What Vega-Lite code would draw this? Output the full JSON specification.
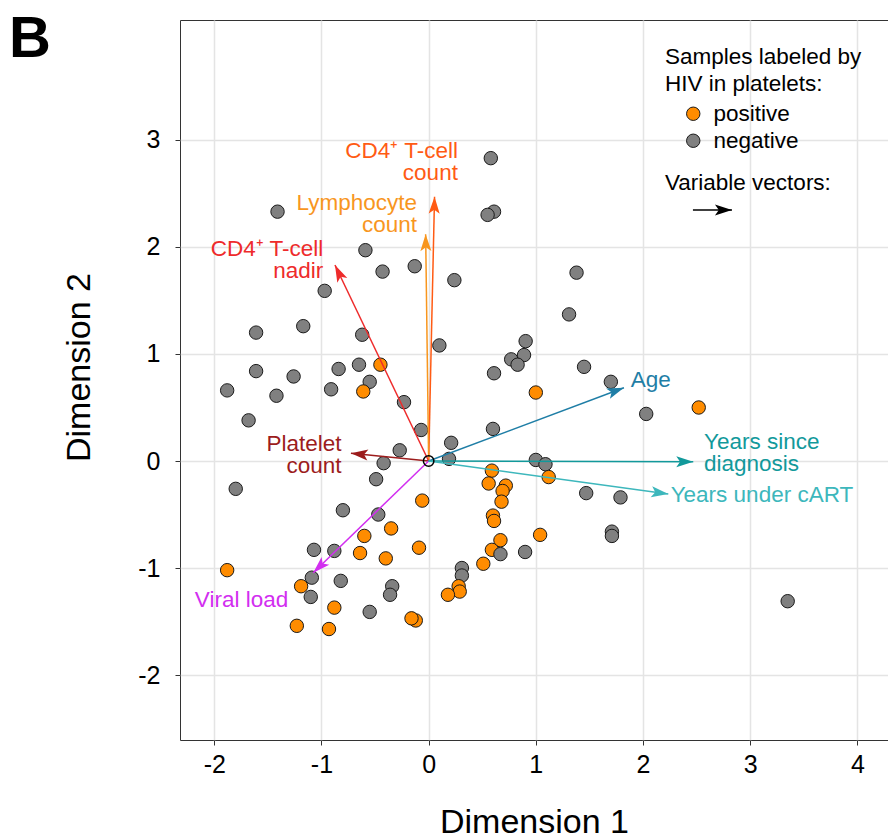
{
  "$schema": "https://vega.github.io/schema/vega-lite/v6.json",
  "autosize": {"type": "none"},
  "padding": {"left": 180, "top": 20, "right": 0, "bottom": 98},
  "width": 708,
  "height": 720,
  "background": "white",
  "config": {
    "font": "Liberation Sans",
    "view": {"stroke": "#333333", "strokeWidth": 1},
    "axis": {
      "grid": true, "gridColor": "#E4E4E4", "gridWidth": 1.5, "domain": false,
      "tickColor": "#333333", "tickSize": 5, "tickWidth": 1,
      "labelFont": "Liberation Sans", "labelFontSize": 25, "labelColor": "#000000",
      "labelExpr": "'' + datum.value",
      "titleFont": "Liberation Sans", "titleFontSize": 34, "titleFontWeight": "normal", "titleColor": "#000000"
    }
  },
  "datasets": {
    "samples": [
      {"d1": -1.41, "d2": 2.33, "hiv": "negative"},
      {"d1": -0.59, "d2": 1.97, "hiv": "negative"},
      {"d1": -0.43, "d2": 1.77, "hiv": "negative"},
      {"d1": -0.13, "d2": 1.82, "hiv": "negative"},
      {"d1": 0.24, "d2": 1.69, "hiv": "negative"},
      {"d1": -0.97, "d2": 1.59, "hiv": "negative"},
      {"d1": -1.61, "d2": 1.20, "hiv": "negative"},
      {"d1": -1.17, "d2": 1.26, "hiv": "negative"},
      {"d1": -0.62, "d2": 1.18, "hiv": "negative"},
      {"d1": 0.10, "d2": 1.08, "hiv": "negative"},
      {"d1": 0.58, "d2": 2.83, "hiv": "negative"},
      {"d1": 0.61, "d2": 2.33, "hiv": "negative"},
      {"d1": 0.55, "d2": 2.30, "hiv": "negative"},
      {"d1": 1.38, "d2": 1.76, "hiv": "negative"},
      {"d1": 1.31, "d2": 1.37, "hiv": "negative"},
      {"d1": 0.905, "d2": 1.12, "hiv": "negative"},
      {"d1": -1.61, "d2": 0.84, "hiv": "negative"},
      {"d1": -1.26, "d2": 0.79, "hiv": "negative"},
      {"d1": -1.88, "d2": 0.66, "hiv": "negative"},
      {"d1": -1.42, "d2": 0.61, "hiv": "negative"},
      {"d1": -1.68, "d2": 0.38, "hiv": "negative"},
      {"d1": -0.84, "d2": 0.86, "hiv": "negative"},
      {"d1": -0.65, "d2": 0.90, "hiv": "negative"},
      {"d1": -0.45, "d2": 0.90, "hiv": "positive"},
      {"d1": -0.55, "d2": 0.74, "hiv": "negative"},
      {"d1": -0.91, "d2": 0.67, "hiv": "negative"},
      {"d1": -0.61, "d2": 0.65, "hiv": "positive"},
      {"d1": -0.23, "d2": 0.55, "hiv": "negative"},
      {"d1": -0.07, "d2": 0.29, "hiv": "negative"},
      {"d1": 0.21, "d2": 0.17, "hiv": "negative"},
      {"d1": -0.27, "d2": 0.10, "hiv": "negative"},
      {"d1": 0.19, "d2": 0.02, "hiv": "negative"},
      {"d1": -0.42, "d2": -0.02, "hiv": "negative"},
      {"d1": -0.49, "d2": -0.17, "hiv": "negative"},
      {"d1": -1.80, "d2": -0.26, "hiv": "negative"},
      {"d1": -0.06, "d2": -0.37, "hiv": "positive"},
      {"d1": -0.80, "d2": -0.46, "hiv": "negative"},
      {"d1": -0.47, "d2": -0.50, "hiv": "negative"},
      {"d1": -0.35, "d2": -0.63, "hiv": "positive"},
      {"d1": 0.89, "d2": 0.99, "hiv": "negative"},
      {"d1": 0.77, "d2": 0.95, "hiv": "negative"},
      {"d1": 0.83, "d2": 0.90, "hiv": "negative"},
      {"d1": 0.61, "d2": 0.82, "hiv": "negative"},
      {"d1": 1.45, "d2": 0.88, "hiv": "negative"},
      {"d1": 1.70, "d2": 0.74, "hiv": "negative"},
      {"d1": 1.00, "d2": 0.64, "hiv": "positive"},
      {"d1": 2.03, "d2": 0.44, "hiv": "negative"},
      {"d1": 2.52, "d2": 0.50, "hiv": "positive"},
      {"d1": 0.60, "d2": 0.30, "hiv": "negative"},
      {"d1": 1.00, "d2": 0.01, "hiv": "negative"},
      {"d1": 1.09, "d2": -0.03, "hiv": "negative"},
      {"d1": 1.12, "d2": -0.15, "hiv": "positive"},
      {"d1": 0.59, "d2": -0.09, "hiv": "positive"},
      {"d1": 0.56, "d2": -0.21, "hiv": "positive"},
      {"d1": 0.72, "d2": -0.23, "hiv": "positive"},
      {"d1": 0.69, "d2": -0.28, "hiv": "positive"},
      {"d1": 0.68, "d2": -0.38, "hiv": "positive"},
      {"d1": 1.47, "d2": -0.30, "hiv": "negative"},
      {"d1": 1.79, "d2": -0.34, "hiv": "negative"},
      {"d1": 0.60, "d2": -0.51, "hiv": "positive"},
      {"d1": 0.61, "d2": -0.56, "hiv": "positive"},
      {"d1": -0.60, "d2": -0.70, "hiv": "positive"},
      {"d1": -0.09, "d2": -0.81, "hiv": "positive"},
      {"d1": -0.88, "d2": -0.84, "hiv": "negative"},
      {"d1": -1.07, "d2": -0.83, "hiv": "negative"},
      {"d1": -0.64, "d2": -0.86, "hiv": "positive"},
      {"d1": -0.40, "d2": -0.91, "hiv": "positive"},
      {"d1": -1.88, "d2": -1.02, "hiv": "positive"},
      {"d1": -1.09, "d2": -1.09, "hiv": "negative"},
      {"d1": -0.82, "d2": -1.12, "hiv": "negative"},
      {"d1": -1.19, "d2": -1.17, "hiv": "positive"},
      {"d1": -0.34, "d2": -1.17, "hiv": "negative"},
      {"d1": -0.36, "d2": -1.25, "hiv": "negative"},
      {"d1": -1.10, "d2": -1.27, "hiv": "negative"},
      {"d1": -0.88, "d2": -1.37, "hiv": "positive"},
      {"d1": -0.55, "d2": -1.41, "hiv": "negative"},
      {"d1": -1.23, "d2": -1.54, "hiv": "positive"},
      {"d1": -0.93, "d2": -1.57, "hiv": "positive"},
      {"d1": -0.12, "d2": -1.49, "hiv": "positive"},
      {"d1": -0.16, "d2": -1.47, "hiv": "positive"},
      {"d1": 0.31, "d2": -1.00, "hiv": "negative"},
      {"d1": 0.31, "d2": -1.07, "hiv": "negative"},
      {"d1": 0.28, "d2": -1.17, "hiv": "positive"},
      {"d1": 0.29, "d2": -1.22, "hiv": "positive"},
      {"d1": 0.18, "d2": -1.25, "hiv": "positive"},
      {"d1": 1.04, "d2": -0.69, "hiv": "positive"},
      {"d1": 0.67, "d2": -0.74, "hiv": "positive"},
      {"d1": 0.59, "d2": -0.83, "hiv": "positive"},
      {"d1": 0.67, "d2": -0.87, "hiv": "negative"},
      {"d1": 0.90, "d2": -0.85, "hiv": "negative"},
      {"d1": 0.51, "d2": -0.96, "hiv": "positive"},
      {"d1": 1.71, "d2": -0.66, "hiv": "negative"},
      {"d1": 1.71, "d2": -0.70, "hiv": "negative"},
      {"d1": 3.35, "d2": -1.31, "hiv": "negative"}
    ],
    "vectors": [
      {"variable": "CD4 count", "o1": 0, "o2": 0, "d1": 0.055, "d2": 2.47, "label": "CD4⁺ T-cell\ncount", "lx": 0.273, "ly": 2.897},
      {"variable": "Lymphocyte count", "o1": 0, "o2": 0, "d1": -0.028, "d2": 2.12, "label": "Lymphocyte\ncount", "lx": -0.109, "ly": 2.408},
      {"variable": "CD4 nadir", "o1": 0, "o2": 0, "d1": -0.874, "d2": 1.832, "label": "CD4⁺ T-cell\nnadir", "lx": -0.983, "ly": 1.981},
      {"variable": "Platelet count", "o1": 0, "o2": 0, "d1": -0.725, "d2": 0.072, "label": "Platelet\ncount", "lx": -0.812, "ly": 0.156},
      {"variable": "Viral load", "o1": 0, "o2": 0, "d1": -1.077, "d2": -1.044, "label": "Viral load", "lx": -1.31, "ly": -1.30},
      {"variable": "Age", "o1": 0, "o2": 0, "d1": 1.822, "d2": 0.685, "label": "Age", "lx": 1.885, "ly": 0.757},
      {"variable": "Years since diagnosis", "o1": 0, "o2": 0, "d1": 2.469, "d2": -0.007, "label": "Years since\ndiagnosis", "lx": 2.569, "ly": 0.180},
      {"variable": "Years under cART", "o1": 0, "o2": 0, "d1": 2.236, "d2": -0.308, "label": "Years under cART", "lx": 2.258, "ly": -0.318},
      {"variable": "key", "o1": 2.466, "o2": 2.346, "d1": 2.83, "d2": 2.346, "label": "Variable vectors:", "lx": 2.205, "ly": 2.60}
    ]
  },
  "layer": [
    {
      "data": {"name": "samples"},
      "mark": {"type": "point", "shape": "circle", "filled": true, "size": 180, "stroke": "#1a1a1a", "strokeWidth": 1, "opacity": 1},
      "encoding": {
        "x": {"field": "d1", "type": "quantitative", "title": "Dimension 1",
              "scale": {"domain": [-2.32, 4.286], "nice": false, "zero": false},
              "axis": {"values": [-2, -1, 0, 1, 2, 3, 4], "labelPadding": 7, "titleY": 92, "titleBaseline": "alphabetic"}},
        "y": {"field": "d2", "type": "quantitative", "title": "Dimension 2",
              "scale": {"domain": [-2.607, 4.121], "nice": false, "zero": false},
              "axis": {"values": [-2, -1, 0, 1, 2, 3], "labelPadding": 15, "titleX": -91, "titleY": 347, "titleBaseline": "alphabetic"}},
        "fill": {"field": "hiv", "type": "nominal",
                 "scale": {"domain": ["positive", "negative"], "range": ["#FF8C00", "#808080"]},
                 "legend": {
                   "orient": "none", "legendX": 485, "legendY": 26,
                   "title": ["Samples labeled by", "HIV in platelets:"],
                   "titleFontSize": 22.5, "titleFontWeight": "normal", "titleColor": "#000000", "titleLineHeight": 27, "titlePadding": 7, "titleLimit": 400,
                   "labelFontSize": 22.5, "labelColor": "#000000", "labelOffset": 9, "labelLimit": 300,
                   "symbolType": "circle", "symbolSize": 180, "symbolStrokeColor": "#1a1a1a", "symbolStrokeWidth": 1, "symbolOffset": 17,
                   "rowPadding": 4
                 }}
      }
    },
    {
      "data": {"name": "vectors"},
      "mark": {"type": "rule", "strokeWidth": 1.5},
      "encoding": {
        "x": {"field": "o1", "type": "quantitative", "title": "Dimension 1"},
        "y": {"field": "o2", "type": "quantitative", "title": "Dimension 2"},
        "x2": {"field": "d1"},
        "y2": {"field": "d2"},
        "color": {"field": "variable", "type": "nominal", "legend": null,
                  "scale": {"domain": ["CD4 count", "Lymphocyte count", "CD4 nadir", "Platelet count", "Viral load", "Age", "Years since diagnosis", "Years under cART", "key"],
                            "range": ["#FF5B14", "#F8961E", "#EE2B2B", "#9C1C1C", "#D22EF0", "#1F7EA6", "#12999B", "#3DB7BC", "#000000"]}}
      }
    },
    {
      "data": {"name": "vectors"},
      "transform": [{"calculate": "atan2(datum.d1 - datum.o1, datum.d2 - datum.o2) * 180 / PI", "as": "heading"}],
      "mark": {"type": "point", "shape": "M0,0 L0.65,2 L0,1.55 L-0.65,2 Z", "filled": true, "size": 289, "strokeWidth": 0, "opacity": 1},
      "encoding": {
        "x": {"field": "d1", "type": "quantitative", "title": "Dimension 1"},
        "y": {"field": "d2", "type": "quantitative", "title": "Dimension 2"},
        "angle": {"field": "heading", "type": "quantitative", "scale": null},
        "color": {"field": "variable", "type": "nominal", "legend": null}
      }
    },
    {
      "data": {"name": "vectors"},
      "transform": [{"filter": {"field": "variable", "oneOf": ["CD4 count", "Lymphocyte count", "CD4 nadir", "Platelet count", "Viral load"]}}],
      "mark": {"type": "text", "align": "right", "baseline": "middle", "fontSize": 22.5, "lineHeight": 22, "lineBreak": "\n"},
      "encoding": {
        "x": {"field": "lx", "type": "quantitative", "title": "Dimension 1"},
        "y": {"field": "ly", "type": "quantitative", "title": "Dimension 2"},
        "text": {"field": "label"},
        "color": {"field": "variable", "type": "nominal", "legend": null}
      }
    },
    {
      "data": {"name": "vectors"},
      "transform": [{"filter": {"field": "variable", "oneOf": ["Age", "Years since diagnosis", "Years under cART", "key"]}}],
      "mark": {"type": "text", "align": "left", "baseline": "middle", "fontSize": 22.5, "lineHeight": 22, "lineBreak": "\n"},
      "encoding": {
        "x": {"field": "lx", "type": "quantitative", "title": "Dimension 1"},
        "y": {"field": "ly", "type": "quantitative", "title": "Dimension 2"},
        "text": {"field": "label"},
        "color": {"field": "variable", "type": "nominal", "legend": null}
      }
    },
    {
      "data": {"values": [{"origin": "origin"}]},
      "mark": {"type": "point", "shape": "circle", "filled": false, "size": 110, "stroke": "#000000", "strokeWidth": 1.5, "opacity": 1},
      "encoding": {
        "x": {"datum": 0, "type": "quantitative"},
        "y": {"datum": 0, "type": "quantitative"}
      }
    },
    {
      "data": {"values": [{"tag": "B"}]},
      "mark": {"type": "text", "align": "left", "baseline": "alphabetic", "fontSize": 58, "fontWeight": "bold", "color": "#000000"},
      "encoding": {
        "x": {"datum": -3.916, "type": "quantitative"},
        "y": {"datum": 3.776, "type": "quantitative"},
        "text": {"field": "tag"}
      }
    }
  ]
}
